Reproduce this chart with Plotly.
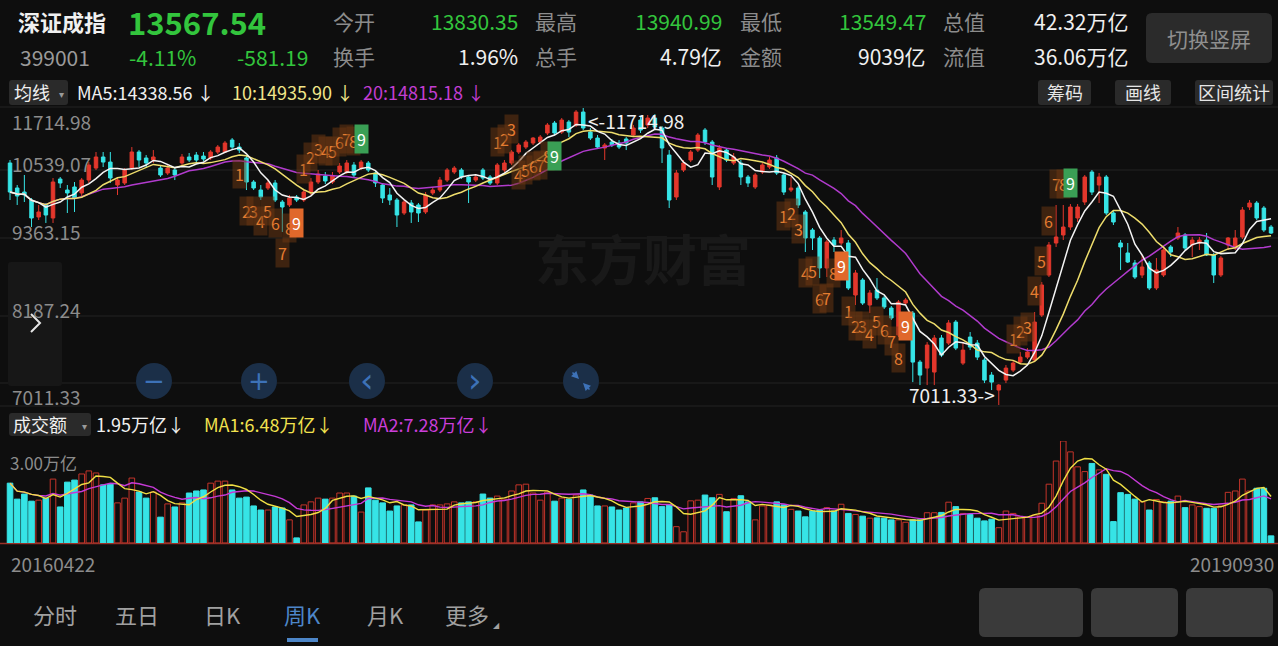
import plotly.graph_objects as go
import pandas as pd

W, H = 1278, 646
BG = "#0e0e0e"
RED = "#e3372c"
RED_VOL = "#c4342a"
CYAN = "#36e4e6"
GREEN = "#33c53d"
GRAY = "#8c8c8c"
WHITE = "#f0f0f0"
YELLOW = "#eedd6c"
PURPLE = "#b13bcd"
VOL_YELLOW = "#f0df45"
VOL_PURPLE = "#c63ad6"
FONT = "Noto Sans CJK SC"

# ---------------- data (weekly K, 深证成指 399001) ----------------
OPEN = [10844, 10448, 10384, 10258, 9989, 10179, 9973, 10590, 10416, 10464,
        10369, 10574, 10764, 10939, 10859, 10495, 10527, 10764, 11018, 10923,
        10891, 10764, 10685, 10733, 10844, 10939, 10970, 10954, 10923, 11018,
        11018, 11208, 11097, 10923, 10543, 10416, 10448, 10527, 10226, 10179,
        10305, 10258, 10369, 10543, 10638, 10543, 10701, 10701, 10812, 10764,
        10844, 10685, 10495, 10337, 10258, 10052, 10210, 10179, 10068, 10369,
        10416, 10574, 10701, 10733, 10622, 10574, 10733, 10622, 10527, 10733,
        10844, 11018, 11097, 11160, 11176, 11319, 11477, 11334, 11493, 11445,
        11651, 11334, 11239, 11081, 11176, 11160, 11224, 11287, 11524, 11445,
        11556, 11398, 10970, 10305, 10733, 10891, 11049, 11366, 11176, 10464,
        11049, 10844, 10844, 10622, 10464, 10701, 10780, 10923, 10654, 10416,
        10448, 10068, 9783, 9656, 9181, 9624, 9577, 9577, 8753, 8991,
        8595, 8832, 8706, 8547, 8120, 8626, 8468, 7691, 7596, 7533,
        8072, 7992, 8325, 7675, 8088, 7992, 7723, 7485, 7248, 7406,
        7564, 7691, 7770, 7723, 8436, 9070, 9577, 9704, 9830, 9973,
        10226, 10701, 10495, 10622, 10052, 9577, 9419, 9260, 9070, 9260,
        8864, 9070, 9514, 9656, 9704, 9545, 9577, 9624, 9387, 9070,
        9545, 9498, 9672, 10147, 10210, 10131, 9830]
HIGH = [10891, 10495, 10654, 10289, 10179, 10210, 10606, 10622, 10495, 10543,
        10606, 10859, 11018, 11018, 11018, 10622, 10764, 11097, 11049, 10970,
        11049, 10812, 10812, 10764, 10986, 11002, 11018, 11018, 11049, 11129,
        11192, 11239, 11160, 10970, 10574, 10495, 10574, 10574, 10258, 10337,
        10337, 10416, 10606, 10733, 10701, 10701, 10844, 10891, 10859, 10891,
        10875, 10717, 10527, 10448, 10289, 10258, 10258, 10210, 10384, 10464,
        10622, 10764, 10796, 10764, 10654, 10669, 10764, 10654, 10844, 10891,
        11049, 11160, 11208, 11255, 11287, 11477, 11509, 11556, 11524, 11683,
        11714.98, 11398, 11287, 11160, 11224, 11208, 11255, 11445, 11572, 11604,
        11619, 11429, 11049, 10733, 10891, 11049, 11319, 11398, 11208, 11129,
        11081, 11002, 10891, 10654, 10685, 10844, 10939, 10970, 10685, 10622,
        10479, 10099, 9814, 9688, 9624, 9672, 9783, 9624, 9149, 9022,
        8832, 9022, 8737, 8579, 8674, 8706, 8500, 7723, 8008, 8120,
        8120, 8357, 8357, 8008, 8167, 8040, 7755, 7533, 7343, 7644,
        7723, 7850, 7913, 8484, 8959, 9593, 10179, 10179, 10194, 10194,
        10654, 10733, 10685, 10654, 10099, 9624, 9577, 9308, 9387, 9292,
        9339, 9498, 9545, 9830, 9735, 9672, 9672, 9735, 9419, 9371,
        9672, 9783, 10147, 10258, 10242, 10163, 9862]
LOW = [10258, 10179, 10226, 9830, 9941, 9894, 9894, 10448, 10052, 10068,
       10321, 10527, 10733, 10780, 10527, 10337, 10495, 10733, 10780, 10764,
       10844, 10622, 10654, 10574, 10812, 10859, 10859, 10875, 10891, 10986,
       11002, 11049, 11002, 10416, 10416, 10258, 10416, 10226, 9751, 10147,
       10226, 10226, 10337, 10511, 10511, 10511, 10669, 10669, 10622, 10733,
       10701, 10464, 10210, 10179, 9830, 10020, 9894, 9909, 10036, 10337,
       10384, 10543, 10669, 10590, 10210, 10543, 10574, 10495, 10495, 10701,
       10812, 10986, 11065, 11129, 11144, 11287, 11287, 11303, 11255, 11414,
       11366, 11208, 11065, 10891, 11097, 11065, 11049, 11255, 11319, 11398,
       11366, 10844, 10131, 10258, 10701, 10859, 11018, 11129, 10495, 10416,
       10859, 10812, 10495, 10464, 10432, 10669, 10749, 10654, 10337, 10384,
       10131, 9434, 9466, 9022, 9038, 9434, 9545, 8832, 8595, 8595,
       8468, 8674, 8531, 8357, 8088, 8595, 7374, 7327, 7327, 7327,
       7770, 7961, 7881, 7644, 7881, 7723, 7359, 7248, 7011.33, 7359,
       7533, 7660, 7739, 7691, 8405, 9038, 9514, 9624, 9783, 9909,
       10179, 10337, 10210, 10020, 9862, 9149, 9260, 9007, 9022, 8832,
       8832, 9038, 9355, 9624, 9466, 9355, 9466, 9371, 8943, 9038,
       9466, 9466, 9640, 10099, 9941, 9751, 9719]
CLOSE = [10384, 10321, 10337, 9973, 10068, 10020, 10543, 10527, 10369, 10289,
         10574, 10812, 10939, 10859, 10606, 10574, 10733, 11018, 10891, 10844,
         10939, 10654, 10764, 10654, 10939, 10891, 10891, 10907, 11018, 11097,
         11160, 11097, 11049, 10543, 10448, 10305, 10527, 10258, 10147, 10289,
         10258, 10384, 10543, 10669, 10559, 10638, 10796, 10844, 10654, 10859,
         10733, 10527, 10289, 10258, 10020, 10226, 10068, 10052, 10337, 10416,
         10574, 10733, 10764, 10622, 10543, 10622, 10606, 10527, 10812, 10844,
         11018, 11129, 11176, 11239, 11255, 11445, 11319, 11524, 11334, 11651,
         11398, 11239, 11097, 11129, 11129, 11097, 11160, 11398, 11366, 11556,
         11414, 11081, 10258, 10685, 10844, 11018, 11287, 11176, 10622, 11081,
         10891, 10939, 10622, 10527, 10654, 10812, 10891, 10685, 10384, 10448,
         10179, 9656, 9656, 9181, 9593, 9545, 9656, 8864, 9102, 8626,
         8785, 8706, 8563, 8389, 8642, 8674, 7691, 7485, 7961, 8072,
         7802, 8310, 7913, 7881, 7929, 7770, 7406, 7374, 7327, 7596,
         7675, 7770, 7850, 8325, 8912, 9545, 9672, 9830, 10147, 10147,
         10622, 10384, 10622, 10052, 9909, 9514, 9276, 9038, 9197, 8864,
         9149, 9466, 9434, 9735, 9498, 9624, 9624, 9387, 9070, 9339,
         9656, 9656, 10099, 10210, 9973, 9783, 9735]
# weekly turnover, 万亿
AMOUNT = [1.76, 1.29, 1.44, 1.23, 1.26, 1.32, 1.88, 1.06, 1.79, 1.85,
          2.03, 2.12, 2.06, 1.71, 1.73, 1.18, 1.32, 1.91, 1.50, 1.32,
          1.50, 0.76, 1.15, 1.06, 1.18, 1.47, 1.53, 1.56, 1.76, 1.82,
          1.82, 1.56, 1.32, 1.35, 1.09, 0.97, 0.97, 1.06, 1.03, 0.68,
          0.15, 1.12, 1.21, 1.32, 1.29, 1.32, 1.47, 1.47, 1.38, 0.91,
          1.62, 1.26, 1.18, 0.94, 1.09, 1.12, 1.12, 0.62, 0.97, 1.12,
          1.12, 1.15, 1.21, 1.18, 1.21, 1.21, 1.44, 1.32, 1.38, 1.29,
          1.53, 1.71, 1.73, 1.47, 1.26, 1.50, 1.23, 1.32, 1.29, 1.41,
          1.56, 1.41, 1.09, 1.09, 1.06, 0.97, 1.03, 1.18, 1.21, 1.31,
          1.33, 1.07, 1.12, 0.48, 0.33, 1.24, 1.26, 1.41, 1.33, 1.43,
          0.92, 1.31, 1.39, 1.21, 0.68, 1.09, 1.12, 1.21, 1.12, 0.99,
          0.94, 0.77, 0.94, 0.97, 1.04, 0.94, 1.14, 0.87, 0.84, 0.79,
          0.73, 0.74, 0.73, 0.68, 0.68, 0.61, 0.68, 0.68, 0.89, 0.89,
          0.90, 1.20, 1.07, 0.87, 0.84, 0.73, 0.65, 0.70, 0.45, 0.94,
          0.87, 0.77, 0.77, 0.82, 1.17, 1.73, 2.41, 3.00, 2.68, 2.24,
          2.10, 2.34, 2.15, 2.02, 0.63, 1.48, 1.43, 1.29, 1.21, 0.97,
          1.28, 1.21, 1.23, 1.38, 1.04, 1.12, 1.07, 1.02, 1.02, 1.09,
          1.49, 1.53, 1.88, 1.53, 1.61, 1.61, 0.21]

PRICE_LABELS = ["11714.98", "10539.07", "9363.15", "8187.24", "7011.33"]
PRICE_MAX = 11714.98
PRICE_MIN = 7011.33
VOL_MAX = 3.00
VOL_LABEL = "3.00万亿"
DATE_LABELS = ["20160422", "20190930"]
MAX_IDX = 80
MIN_IDX = 138

# TD sequential counts: first bar of each 1..9 run, and its kind
TD_START = [32, 41, 68, 108, 117, 140]
TD_KIND = ["sell", "buy", "buy", "sell", "sell", "buy"]

HEADER = {
    "name": "深证成指", "last": "13567.54", "code": "399001",
    "pct": "-4.11%", "chg": "-581.19",
}
HEADER_FIELDS = [
    ("今开", "13830.35", GREEN), ("最高", "13940.99", GREEN), ("最低", "13549.47", GREEN),
    ("总值", "42.32万亿", WHITE),
    ("换手", "1.96%", WHITE), ("总手", "4.79亿", WHITE), ("金额", "9039亿", WHITE),
    ("流值", "36.06万亿", WHITE),
]
MA_LEGEND = ["MA5:14338.56 ↓", "10:14935.90 ↓", "20:14815.18 ↓"]
VOL_LEGEND = ["1.95万亿↓", "MA1:6.48万亿↓", "MA2:7.28万亿↓"]
TABS = ["分时", "五日", "日K", "周K", "月K", "更多"]

# ---------------- derived ----------------
N = len(CLOSE)
X = list(range(N))
cs = pd.Series(CLOSE)
MA5 = cs.rolling(5, min_periods=1).mean()
MA10 = cs.rolling(10, min_periods=1).mean()
MA20 = cs.rolling(20, min_periods=1).mean()
vs = pd.Series(AMOUNT)
VMA1 = vs.rolling(5, min_periods=1).mean()
VMA2 = vs.rolling(10, min_periods=1).mean()
up = [c >= o for o, c in zip(OPEN, CLOSE)]


def PX(x):
    return x / W


def PY(y):
    return 1 - y / H


fig = go.Figure()

fig.add_trace(go.Candlestick(
    x=X, open=OPEN, high=HIGH, low=LOW, close=CLOSE,
    increasing=dict(line=dict(color=RED, width=1), fillcolor=RED),
    decreasing=dict(line=dict(color=CYAN, width=1), fillcolor=CYAN),
    whiskerwidth=0, showlegend=False, hoverinfo="skip",
    xaxis="x", yaxis="y"))
for ser, col in [(MA20, PURPLE), (MA10, YELLOW), (MA5, "#f4f4f4")]:
    fig.add_trace(go.Scatter(x=X, y=ser, mode="lines", line=dict(color=col, width=1.5),
                             showlegend=False, hoverinfo="skip", xaxis="x", yaxis="y"))

fig.add_trace(go.Bar(
    x=X, y=AMOUNT, width=0.78,
    marker=dict(color=["rgba(0,0,0,0)" if u else CYAN for u in up],
                line=dict(color=[RED_VOL if u else CYAN for u in up], width=1)),
    showlegend=False, hoverinfo="skip", xaxis="x2", yaxis="y2"))
for ser, col in [(VMA2, VOL_PURPLE), (VMA1, VOL_YELLOW)]:
    fig.add_trace(go.Scatter(x=X, y=ser, mode="lines", line=dict(color=col, width=1.4),
                             showlegend=False, hoverinfo="skip", xaxis="x2", yaxis="y2"))

XR = [-1.40, N - 1 + 0.97]
fig.update_layout(
    width=W, height=H, margin=dict(l=0, r=0, t=0, b=0),
    paper_bgcolor=BG, plot_bgcolor="rgba(0,0,0,0)",
    font=dict(family=FONT, color=WHITE),
    bargap=0,
    xaxis=dict(domain=[0, 1], range=XR, visible=False, rangeslider=dict(visible=False), fixedrange=True),
    yaxis=dict(domain=[PY(405), PY(108)], range=[PRICE_MIN, PRICE_MAX], visible=False),
    xaxis2=dict(domain=[0, 1], range=XR, visible=False, anchor="y2", matches="x"),
    yaxis2=dict(domain=[PY(543), PY(441)], range=[0, VOL_MAX], visible=False, anchor="x2"),
)

shapes = []
ann = []


def line_h(y, color, width=1):
    shapes.append(dict(type="line", xref="paper", yref="paper", x0=0, x1=1,
                       y0=PY(y), y1=PY(y), line=dict(color=color, width=width), layer="below"))


def rrect(x0, y0, x1, y1, r, fill, layer="below"):
    p = (f"M {PX(x0+r)},{PY(y0)} L {PX(x1-r)},{PY(y0)} Q {PX(x1)},{PY(y0)} {PX(x1)},{PY(y0+r)} "
         f"L {PX(x1)},{PY(y1-r)} Q {PX(x1)},{PY(y1)} {PX(x1-r)},{PY(y1)} "
         f"L {PX(x0+r)},{PY(y1)} Q {PX(x0)},{PY(y1)} {PX(x0)},{PY(y1-r)} "
         f"L {PX(x0)},{PY(y0+r)} Q {PX(x0)},{PY(y0)} {PX(x0+r)},{PY(y0)} Z")
    shapes.append(dict(type="path", path=p, xref="paper", yref="paper",
                       fillcolor=fill, line=dict(width=0), layer=layer))


def txt(s, x, y, size, color, anchor="left", bold=False, **kw):
    ann.append(dict(text=(f"<b>{s}</b>" if bold else s), x=PX(x), y=PY(y), xref="paper", yref="paper",
                    xanchor=anchor, yanchor="middle", showarrow=False,
                    font=dict(size=size, color=color, family=kw.pop("family", FONT)), **kw))


# grid lines
for gy in [107, 170, 238, 316, 383, 406]:
    line_h(gy, "#232323")
line_h(543.5, "#9c3128", 1.5)

# watermark
txt("东方财富", 643, 258, 54, "#191919", anchor="center", bold=True)

# left slide panel with chevron icon
rrect(8, 262, 62, 386, 3, "#171717")
shapes.append(dict(type="path", xref="paper", yref="paper",
                   path=f"M {PX(31)},{PY(314)} L {PX(40)},{PY(323)} L {PX(31)},{PY(332)}",
                   line=dict(color="#e6e6e6", width=2), layer="above"))

# zoom buttons
for cx, sym in [(154, "−"), (259, "+"), (367, "‹"), (475, "›")]:
    shapes.append(dict(type="circle", xref="paper", yref="paper",
                       x0=PX(cx - 18), x1=PX(cx + 18), y0=PY(381 + 18), y1=PY(381 - 18),
                       fillcolor="#1b2f48", line=dict(width=0), layer="above"))
    ann.append(dict(text=sym, x=PX(cx), y=PY(380 if sym in "‹›" else 381), xref="paper", yref="paper",
                    showarrow=False, xanchor="center", yanchor="middle",
                    font=dict(size=(34 if sym in "‹›" else 26), color="#3d72b8", family="DejaVu Sans")))
shapes.append(dict(type="circle", xref="paper", yref="paper",
                   x0=PX(581 - 18), x1=PX(581 + 18), y0=PY(381 + 18), y1=PY(381 - 18),
                   fillcolor="#1b2f48", line=dict(width=0), layer="above"))
for tx, ty, axp, ayp in [(579, 379, -8, -8), (583, 383, 8, 8)]:
    ann.append(dict(x=PX(tx), y=PY(ty), xref="paper", yref="paper", ax=axp, ay=ayp, text="",
                    showarrow=True, arrowhead=2, arrowsize=1, arrowwidth=1.5, arrowcolor="#3d72b8"))

# price axis labels
for lab, ly in zip(PRICE_LABELS, [122, 163, 231, 309, 396]):
    txt(lab, 10, ly, 19, GRAY)

# max / min markers
ann.append(dict(text="<-" + f"{PRICE_MAX:.2f}", x=MAX_IDX, y=PRICE_MAX, xref="x", yref="y",
                xanchor="left", yanchor="middle", xshift=3, yshift=-13, showarrow=False,
                font=dict(size=19, color=WHITE, family=FONT)))
ann.append(dict(text=f"{PRICE_MIN:.2f}" + "->", x=MIN_IDX, y=PRICE_MIN, xref="x", yref="y",
                xanchor="right", yanchor="middle", xshift=-2, yshift=10, showarrow=False,
                font=dict(size=19, color=WHITE, family=FONT)))

# TD sequential numbers
for s, kind in zip(TD_START, TD_KIND):
    for n in range(1, 10):
        i = s + n - 1
        below = kind == "sell" or (kind == "buy" and s == 68 and n > 3)
        yv = LOW[i] if below else HIGH[i]
        if n == 9:
            bg = "#e0682b" if kind == "sell" else "#3a9f55"
            fc = "#ffffff"
        else:
            bg = "rgba(110,55,18,0.5)"
            fc = "#e57c30"
        ann.append(dict(text=str(n), x=i, y=yv, xref="x", yref="y", showarrow=False,
                        xanchor="center", yanchor="middle", yshift=(-21 if below else 21),
                        bgcolor=bg, borderpad=2,
                        font=dict(size=16, color=fc, family=FONT)))

# ---------------- header ----------------
txt(HEADER["name"], 16, 21, 22, WHITE, bold=True)
txt(HEADER["last"], 126, 21, 31, GREEN, bold=True)
txt(HEADER["code"], 18, 57, 21, "#9a9a9a")
txt(HEADER["pct"], 127, 57, 21, GREEN)
txt(HEADER["chg"], 235, 57, 21, GREEN)
label_x = [331, 533, 738, 941]
value_r = [520, 724, 928, 1130]
for k, (lab, val, col) in enumerate(HEADER_FIELDS):
    row_y = 21 if k < 4 else 56
    txt(lab, label_x[k % 4], row_y, 21, GRAY)
    txt(val, value_r[k % 4], row_y, 21, col, anchor="right")
rrect(1146, 13, 1272, 63, 6, "#2b2b2b")
txt("切换竖屏", 1209, 38, 21, "#8f8f8f", anchor="center")

# MA legend row
rrect(9, 80, 68, 105, 3, "#2a2a2a")
txt("均线", 12, 92, 18, WHITE)
txt("▾", 57, 93, 10, "#9a9a9a")
for s, x0, col in zip(MA_LEGEND, [75, 230, 361], [WHITE, "#f2e68a", "#c23ed2"]):
    txt(s, x0, 92, 18, col)
for s, x0, x1 in [("筹码", 1038, 1091), ("画线", 1115, 1171), ("区间统计", 1195, 1273)]:
    rrect(x0, 80, x1, 105, 3, "#2a2a2a")
    txt(s, (x0 + x1) / 2, 92, 18, "#e6e6e6", anchor="center")

# volume legend row
rrect(9, 413, 91, 436, 3, "#2a2a2a")
txt("成交额", 11, 424, 18, WHITE)
txt("▾", 80, 425, 10, "#9a9a9a")
for s, x0, col in zip(VOL_LEGEND, [94, 202, 361], [WHITE, "#f2e24e", "#cb3edb"]):
    txt(s, x0, 424, 18, col)
txt(VOL_LABEL, 8, 462, 17, GRAY)
txt(DATE_LABELS[0], 9, 563, 19, GRAY)
txt(DATE_LABELS[1], 1276, 563, 19, GRAY, anchor="right")

# bottom tabs
for s, cx in zip(TABS, [55, 137, 222, 302, 385, 467]):
    txt(s, cx, 614, 22, "#4d86c8" if s == "周K" else "#a0a0a0", anchor="center")
txt("◢", 496, 625, 8, "#a0a0a0", anchor="center", family="DejaVu Sans")
shapes.append(dict(type="rect", xref="paper", yref="paper", x0=PX(287), x1=PX(318),
                   y0=PY(642), y1=PY(638), fillcolor="#4d86c8", line=dict(width=0)))
for x0, x1 in [(979, 1083), (1091, 1178), (1186, 1273)]:
    rrect(x0, 588, x1, 637, 6, "#3a3a3a")

fig.update_layout(shapes=shapes, annotations=ann)
fig.write_html(
    "out.html",
    config={"displayModeBar": False, "staticPlot": True},
    post_script="document.body.style.margin='0';document.body.style.padding='0';"
                "document.body.style.overflow='hidden';document.body.style.background='#0e0e0e';",
)
